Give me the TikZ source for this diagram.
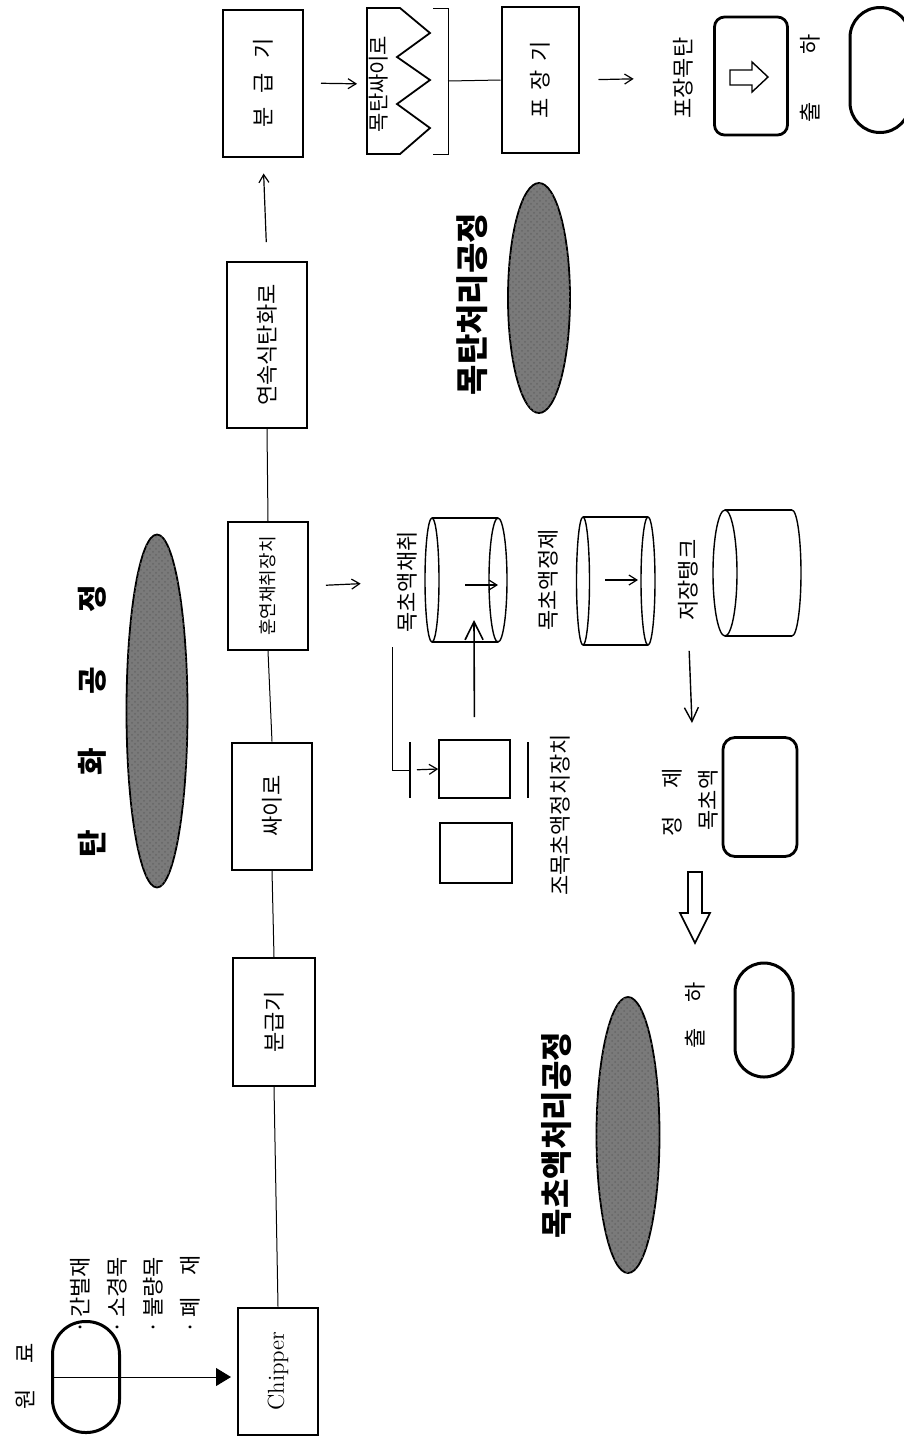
\documentclass[tikz,border=0pt]{standalone}
\usepackage{fontspec}
\newfontfamily\kr{Noto Sans CJK KR}
\usetikzlibrary{arrows.meta,shapes.geometric,patterns}
\definecolor{Cblobgray}{HTML}{7A7A7A}

\begin{document}
\begin{tikzpicture}[x=0.5pt,y=-0.5pt,
		box/.style={draw,line width=1pt,rotate=90,inner sep=0pt,font=\kr\fontsize{11}{13}\selectfont},
		lbl/.style={rotate=90,inner sep=0pt,font=\kr\fontsize{11}{13}\selectfont},
		ttl/.style={rotate=90,inner sep=0pt,font=\kr\bfseries\fontsize{16}{18}\selectfont},
		blob/.style={draw=black,line width=0.9pt,fill=Cblobgray,ellipse,inner sep=0pt,
			postaction={pattern=crosshatch dots,pattern color=black!60}},
		pill/.style={draw,line width=1.5pt,inner sep=0pt},
		link/.style={line width=0.5pt},
		tank/.style={line width=0.7pt},
		arr/.style={line width=0.6pt,-{Straight Barb[length=4pt,width=5pt]}},
		bigarr/.style={line width=0.8pt,-{Straight Barb[length=9pt,width=9pt]}}]
	\useasboundingbox (0,0) rectangle (904,1437);

	\node[lbl] (rawlbl) at (25,1376) {원\hspace{13pt}료};
	\node[pill,rounded corners=16.5pt,minimum width=33.5pt,minimum height=55.5pt] (raw) at (86,1377) {};
	\node[lbl,anchor=west] (r1) at (80,1334) {·\,간벌재};
	\node[lbl,anchor=west] (r2) at (117,1334) {·\,소경목};
	\node[lbl,anchor=west] (r3) at (153,1334) {·\,불량목};
	\node[lbl,anchor=west] (r4) at (190,1334) {·\,폐\hspace{11pt}재};

	\node[box,minimum width=63.5pt,minimum height=40pt,font=\fontsize{11.5}{13}\selectfont] (chip) at (278,1371) {Chipper};
	\node[box,minimum width=64pt,minimum height=41pt] (cls1) at (274,1022) {분급기};
	\node[box,minimum width=63.5pt,minimum height=40pt] (silo) at (272,806) {싸이로};
	\node[box,minimum width=64pt,minimum height=40pt,font=\kr\fontsize{9}{11}\selectfont] (smoke) at (268,586) {훈연채취장치};
	\node[box,minimum width=83pt,minimum height=40pt] (kiln) at (267,345) {연속식탄화로};
	\node[box,minimum width=73.5pt,minimum height=40pt] (cls2) at (263,83) {분\hspace{7pt}급\hspace{7pt}기};

	\draw[link,-{Triangle[length=7.5pt,width=9pt]},shorten >=3pt] (raw.west) -- (raw.west -| chip.north);
	\draw[link] (chip.east) -- (cls1.west);
	\draw[link] (cls1.east) -- (silo.west);
	\draw[link] (silo.east) -- (smoke.west);
	\draw[link] (smoke.east) -- (kiln.west);
	\draw[arr,shorten <=9.5pt,shorten >=8pt] (kiln.east) -- (cls2.west);

	\node[ttl,font=\kr\bfseries\fontsize{15}{17}\selectfont] (t1) at (92,721) {탄\hspace{27pt}화\hspace{27pt}공\hspace{27pt}정};
	\node[blob,minimum width=30.5pt,minimum height=176.5pt] (b1) at (157,711) {};

	\node[lbl,font=\kr\fontsize{10.5}{12}\selectfont] (char) at (379,84) {목탄싸이로};
	\draw[line width=0.9pt] (367,8) -- (400,8) -- (430,33) -- (397,57) -- (430,80) -- (397,104) -- (430,128) -- (400,154) -- (367,154) -- cycle;
	\draw[link] (433,8) -- (448,8) -- (448,154) -- (433,154);
	\coordinate (brk) at (448,81);
	\draw[arr,shorten <=8.5pt,shorten >=6pt] (cls2.south) -- (char.north);

	\node[box,minimum width=73pt,minimum height=38.5pt] (pack) at (540,80) {포\hspace{4pt}장\hspace{4pt}기};
	\draw[link] (brk) -- (pack.north);
	\node[lbl] (packlbl) at (683,78) {포장목탄};
	\draw[arr,shorten <=9.5pt,shorten >=19.5pt] (pack.south) -- (packlbl.north);
	\node[draw,line width=1.4pt,rounded corners=5pt,minimum width=36.5pt,minimum height=59pt] (bag) at (751,76) {};
	\draw[line width=0.7pt] (730,70) -- (752,70) -- (752,62) -- (768,77) -- (752,92) -- (752,85) -- (730,85) -- cycle;
	\node[lbl] (ship1) at (810,78) {출\hspace{24pt}하};
	\node[pill,rounded corners=15pt,minimum width=30pt,minimum height=62.5pt] (end1) at (880,70) {};

	\node[ttl,font=\kr\bfseries\fontsize{16.5}{18}\selectfont] (t2) at (472,304) {목탄처리공정};
	\node[blob,minimum width=31pt,minimum height=115pt] (b2) at (539,298) {};

	\node[lbl] (c1lbl) at (407,582) {목초액채취};
	\draw[arr,shorten <=8.5pt,shorten >=18pt] (smoke.south) -- (c1lbl.north);
	\draw[tank] (432,518) -- (498,518) (432,642) -- (498,642);
	\draw[tank] (432,580) ellipse [x radius=7,y radius=62];
	\draw[tank] (498,580) ellipse [x radius=9,y radius=62];
	\coordinate (c1a) at (465,585);
	\coordinate (c1b) at (498,585);
	\coordinate (c1in) at (474,620);
	\draw[arr] (c1a) -- (c1b);

	\coordinate (tap) at (392,647);
	\coordinate (bar1) at (410,770);
	\draw[link] (tap) |- (bar1);
	\draw[line width=0.7pt] (410,742) -- (410,798);
	\node[draw,line width=0.8pt,minimum width=35.5pt,minimum height=29pt] (tankA) at (474.5,769) {};
	\node[draw,line width=0.8pt,minimum width=36pt,minimum height=30pt] (tankB) at (476,853) {};
	\draw[line width=0.7pt] (528,742) -- (528,798);
	\draw[arr,shorten <=3.5pt] (bar1) -- (tankA.west);
	\draw[bigarr,shorten <=11pt] (tankA.north) -- (c1in);
	\node[lbl] (setlbl) at (560,815) {조목초액정치장치};

	\node[lbl] (c2lbl) at (548,580) {목초액정제};
	\draw[tank] (583,517) -- (648,517) (583,645) -- (648,645);
	\draw[tank] (583,581) ellipse [x radius=6.5,y radius=64];
	\draw[tank] (648,581) ellipse [x radius=7,y radius=64];
	\coordinate (c2a) at (605,580);
	\coordinate (c2b) at (638,580);
	\draw[arr] (c2a) -- (c2b);

	\node[lbl] (c3lbl) at (688,580) {저장탱크};
	\draw[tank] (725,510) -- (792,510) (725,636) -- (792,636);
	\draw[tank] (725,573) ellipse [x radius=12,y radius=63];
	\draw[tank] (792,510) arc [start angle=-90,end angle=90,x radius=9,y radius=63];
	\coordinate (c3out) at (692,723);
	\draw[line width=0.7pt,-{Straight Barb[length=7pt,width=7pt]},shorten <=15pt] (c3lbl.west) -- (c3out);

	\node[lbl] (finelbl1) at (672,802) {정\hspace{14pt}제};
	\node[lbl] (finelbl2) at (708,800) {목초액};
	\node[draw,line width=1.4pt,rounded corners=6pt,minimum width=37pt,minimum height=59.5pt] (fine) at (760,797) {};
	\draw[line width=0.8pt] (688,872) -- (702,872) -- (702,913) -- (710,913) -- (695,943) -- (680,913) -- (688,913) -- cycle;
	\node[lbl] (ship2) at (695,1015) {출\hspace{13pt}하};
	\node[pill,rounded corners=14.5pt,minimum width=29pt,minimum height=57pt] (end2) at (764,1020) {};

	\node[ttl] (t3) at (557,1135) {목초액처리공정};
	\node[blob,minimum width=31.5pt,minimum height=138pt] (b3) at (628,1135) {};
\end{tikzpicture}
\end{document}
